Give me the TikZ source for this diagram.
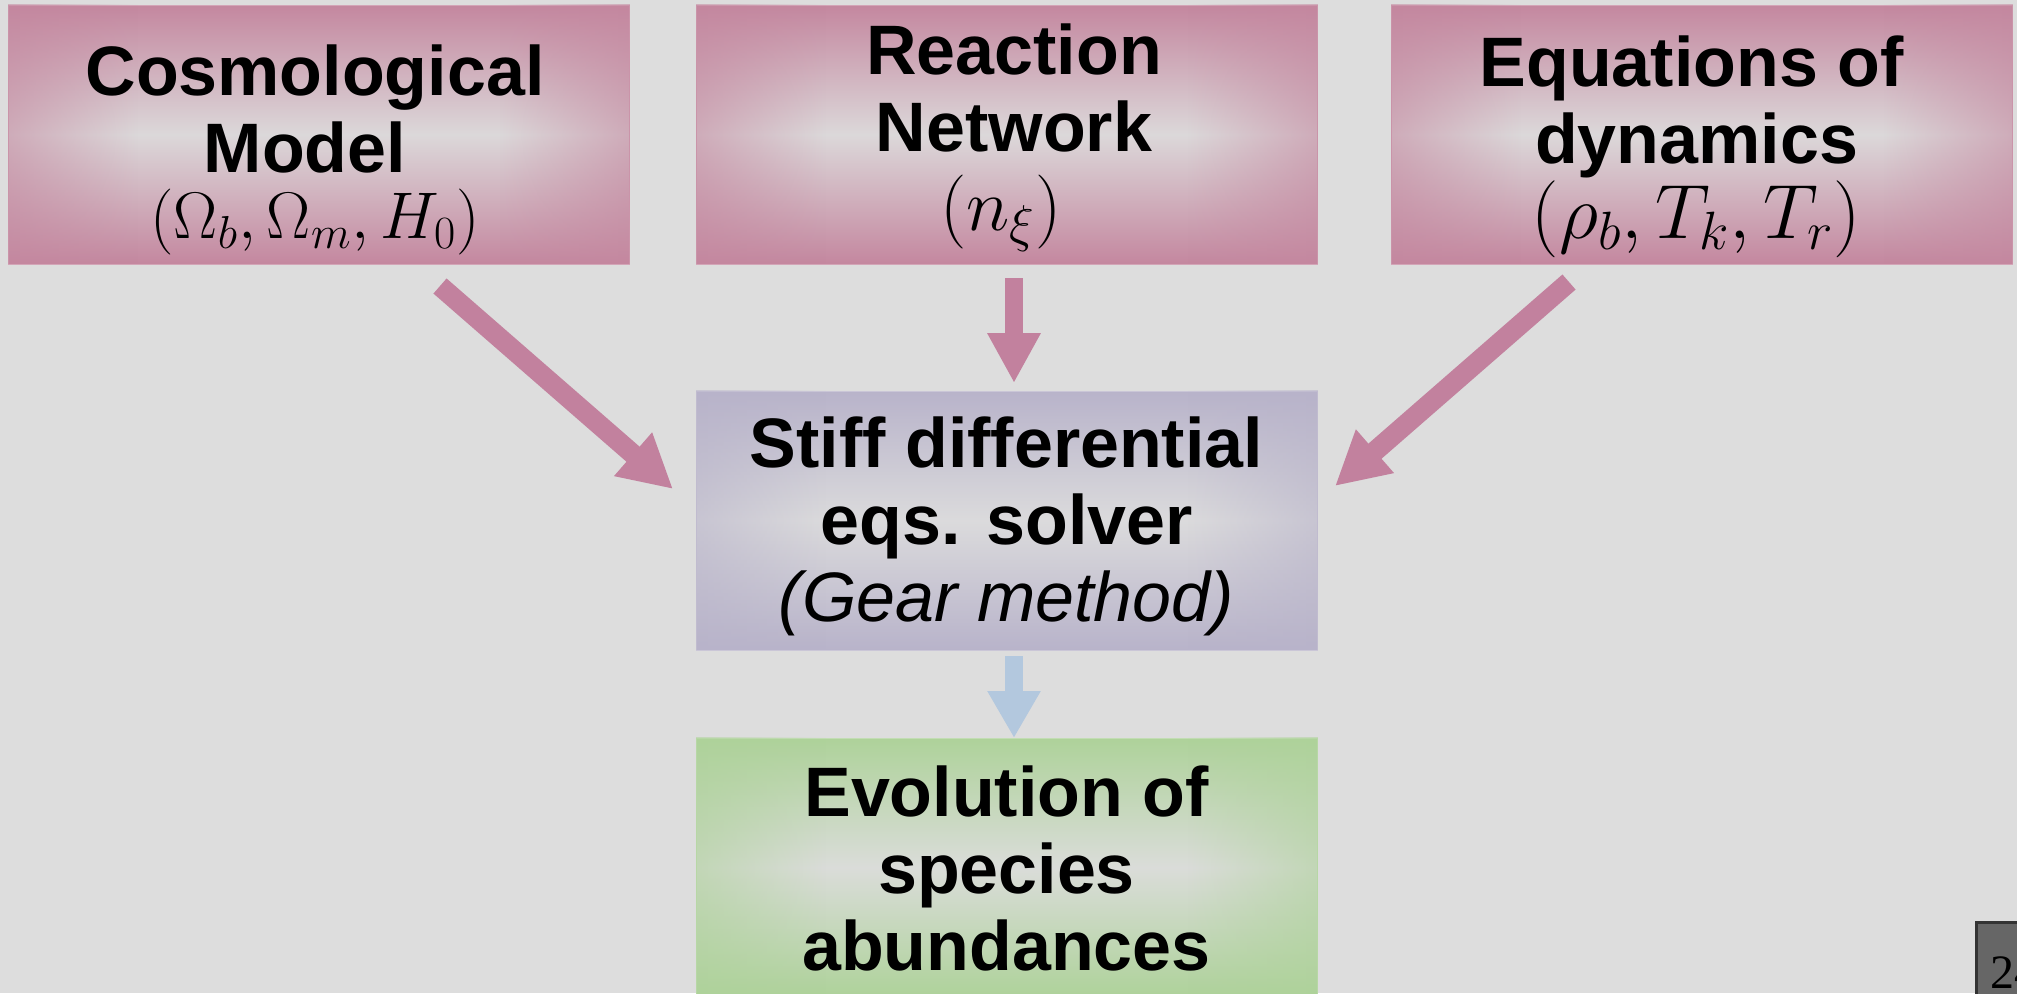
\RequirePackage{fix-cm}
\documentclass[tikz,border=0pt]{standalone}
\usepackage[no-math]{fontspec}
\setmainfont{Liberation Sans}
\newfontfamily\pagefont{Liberation Serif}
\usetikzlibrary{arrows.meta,fadings}
\definecolor{bg}{HTML}{DDDDDD}
\definecolor{rose}{HTML}{C4879F}
\definecolor{rosearrow}{HTML}{C2819E}
\definecolor{lilac}{HTML}{B8B3CA}
\definecolor{sage}{HTML}{AED29A}
\definecolor{sky}{HTML}{B3C8DE}
\definecolor{pagegray}{HTML}{666666}
\definecolor{pageedge}{HTML}{333333}
\tikzfading[name=edge left,left color=transparent!45,right color=transparent!100]
\tikzfading[name=edge right,left color=transparent!100,right color=transparent!45]
\begin{document}
\begin{tikzpicture}[x=0.5pt,y=-0.5pt,
    box/.style={minimum width=310.5pt,minimum height=129.5pt,inner sep=0pt,
      draw=#1!75!white,line width=0.5pt,
      top color=#1,bottom color=#1,middle color=#1!6!bg},
    boxtext/.style={anchor=north,align=center,inner sep=0pt,
      font=\fontsize{35}{38.5}\selectfont\bfseries},
    fat/.style={line width=10pt,-{Triangle[width=27pt,length=26.5pt]}},
    slim/.style={line width=9pt,-{Triangle[width=25pt,length=#1]}}]
  \path[use as bounding box,clip] (0,0) rectangle (2017,993);
  \fill[bg] (0,0) rectangle (2017,993);

  \node[box=rose] (cosmo) at (318.5,134.5) {};
  \node[box=rose] (react) at (1006.5,134.5) {};
  \node[box=rose] (dyn) at (1702,134.5) {};
  \node[box=lilac] (solver) at (1006.5,520.5) {};
  \node[box=sage] (abund) at (1006.5,867.5) {};
  \foreach \b/\c in {cosmo/rose,react/rose,dyn/rose,solver/lilac,abund/sage}{
    \fill[\c,path fading=edge left,fit fading]
      (\b.north west) rectangle ([xshift=65pt]\b.south west);
    \fill[\c,path fading=edge right,fit fading]
      ([xshift=-65pt]\b.north east) rectangle (\b.south east);
  }

  \node[boxtext] (cosmo text) at (315,44)
    {Cosmological\\Model\hspace{10pt}\null\\[-5.5pt]
     {\fontsize{33}{33}\selectfont$(\Omega_b,\Omega_m,H_0)$}};
  \node[boxtext] (react text) at (1014,23)
    {Reaction\\Network\\[1.25pt]
     {\fontsize{37}{37}\selectfont$(n_\xi)$}\hspace*{13pt}};
  \node[boxtext] (dyn text) at (1696.5,35)
    {Equations of\hspace*{5pt}\\dynamics\\[-1pt]
     {\fontsize{38.5}{38.5}\selectfont$(\rho_b,T_k,T_r)$}};
  \node[boxtext] (solver text) at (1006.5,416)
    {Stiff differential\\eqs. solver\\{\mdseries\itshape(Gear method)}};
  \node[boxtext] (abund text) at (1006.5,765)
    {Evolution of\\species\\abundances};

  \coordinate (cosmo out) at (440,286);
  \coordinate (solver left) at (673,489);
  \coordinate (react out) at (1014,278);
  \coordinate (solver top) at (1014,383);
  \coordinate (dyn out) at (1569,282);
  \coordinate (solver right) at (1335,486);
  \coordinate (solver out) at (1014,656);
  \coordinate (abund top) at (1014,738);
  \draw[fat,rosearrow] (cosmo out) -- (solver left);
  \draw[fat,rosearrow] (dyn out) -- (solver right);
  \draw[slim=25pt,rosearrow] (react out) -- (solver top);
  \draw[slim=23.5pt,sky] (solver out) -- (abund top);

  \node[draw=pageedge,fill=pagegray,line width=1.5pt,anchor=north west,
    inner xsep=7.25pt,inner ysep=17.25pt,
    font=\pagefont\fontsize{24}{24}\selectfont] (page) at (1974.5,920.5) {24};
\end{tikzpicture}
\end{document}
